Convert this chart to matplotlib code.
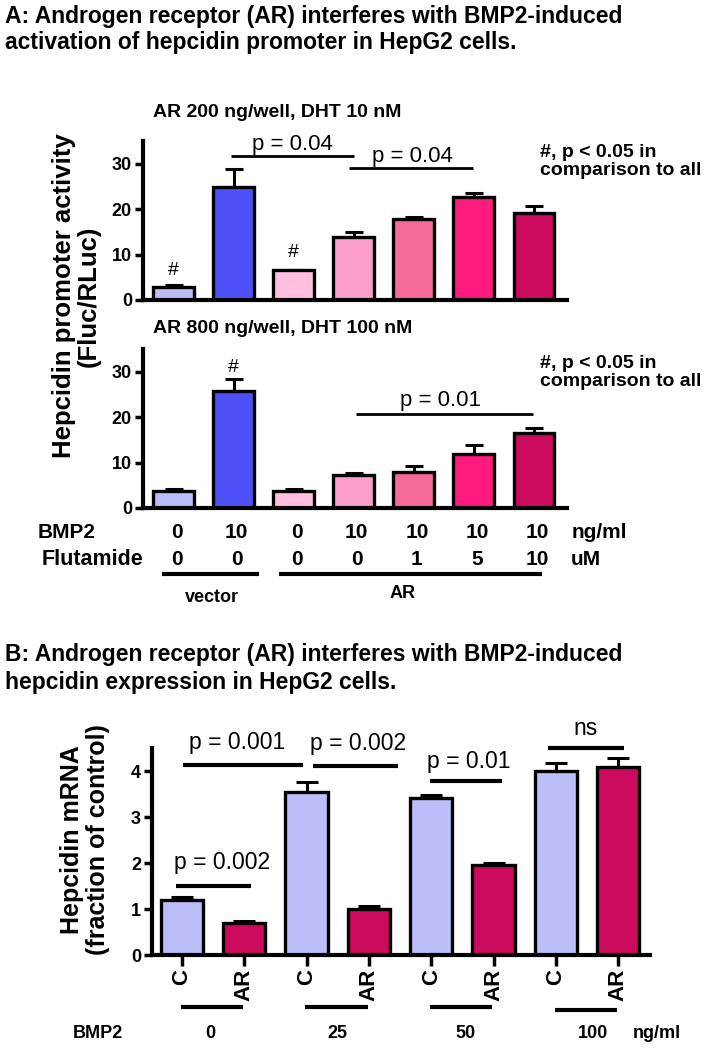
import matplotlib
matplotlib.use("Agg")
from matplotlib import pyplot as plt
import numpy as np

plt.rcParams['font.family'] = ['Liberation Sans', 'DejaVu Sans']

# ---- data, panel A (promoter activity) ----
bmp2_a = ['0', '10', '0', '10', '10', '10', '10']
flutamide = ['0', '0', '0', '0', '1', '5', '10']
colors_a = ['#bdbdfb', '#5050f8', '#ffc0df', '#f89ec8', '#f56a99', '#ff1a7e', '#cc0a5e']

ar200_mean = [2.9, 24.9, 6.5, 13.9, 17.8, 22.6, 19.1]
ar200_sem = [0.4, 4.0, 0.15, 1.0, 0.4, 0.9, 1.6]
ar800_mean = [3.7, 25.8, 3.7, 7.3, 8.0, 11.8, 16.6]
ar800_sem = [0.5, 2.7, 0.5, 0.3, 1.2, 2.1, 1.0]

# ---- data, panel B (hepcidin mRNA) ----
bmp2_b = ['0', '25', '50', '100']
ctrl_mean = [1.2, 3.55, 3.42, 4.0]
ctrl_sem = [0.06, 0.21, 0.05, 0.18]
ar_mean = [0.69, 1.0, 1.95, 4.08]
ar_sem = [0.04, 0.06, 0.05, 0.2]
col_c = '#bdbdfa'
col_ar = '#cc0a5e'

W, H = 710, 1049
fig = plt.figure(figsize=(W / 100, H / 100), dpi=100)


def px_axes(left, top, right, bottom):
    # axes placed with pixel coordinates of the reference
    return fig.add_axes([left / W, 1 - bottom / H, (right - left) / W, (bottom - top) / H])


def style(ax):
    for s in ['top', 'right']:
        ax.spines[s].set_visible(False)
    for s in ['left', 'bottom']:
        ax.spines[s].set_linewidth(3)
    ax.tick_params(axis='both', length=6, width=2.5, labelsize=13, pad=2)
    for lab in ax.get_yticklabels():
        lab.set_fontweight('bold')


def bars(ax, x, mean, sem, colors, width=0.68, cap=6.5):
    ax.errorbar(x, mean, yerr=[np.zeros(len(mean)), sem], fmt='none', ecolor='black',
                elinewidth=2.2, capsize=cap, capthick=2.2, zorder=1)
    ax.bar(x, mean, width=width, color=colors, edgecolor='black', linewidth=2.4, zorder=2)


def bracket(ax, x0, x1, y, text, tx, ty, size=16, lw=2):
    ax.plot([x0, x1], [y, y], color='black', lw=lw, clip_on=False, solid_capstyle='butt')
    ax.text(tx, ty, text, ha='center', va='center', fontsize=size, clip_on=False)


def ftext(x, y, s, **kw):
    # text at reference pixel position
    fig.text(x / W, 1 - y / H, s, **kw)


# ---- titles ----
ftext(5, 16, 'A: Androgen receptor (AR) interferes with BMP2-induced',
      fontsize=16.5, fontweight='bold', va='center')
ftext(5, 43, 'activation of hepcidin promoter in HepG2 cells.',
      fontsize=16.5, fontweight='bold', va='center')
ftext(5, 655, 'B: Androgen receptor (AR) interferes with BMP2-induced',
      fontsize=16.5, fontweight='bold', va='center')
ftext(5, 682, 'hepcidin expression in HepG2 cells.',
      fontsize=16.5, fontweight='bold', va='center')

x7 = np.arange(len(bmp2_a))

# ---- panel A, upper ----
ax1 = px_axes(143, 141, 567, 300)
bars(ax1, x7, ar200_mean, ar200_sem, colors_a)
ax1.set_ylim(0, 35)
ax1.set_xlim(-0.51, 6.55)
ax1.set_yticks([0, 10, 20, 30])
ax1.set_xticks([])
style(ax1)
ax1.text(-0.34, 41.3, 'AR 200 ng/well, DHT 10 nM', fontsize=14, fontweight='bold', va='center')
bracket(ax1, 0.96, 3.0, 31.8, 'p = 0.04', 1.98, 34.3)
bracket(ax1, 2.92, 4.99, 29.1, 'p = 0.04', 3.98, 31.6)
ax1.text(0, 6.6, '#', ha='center', va='center', fontsize=14)
ax1.text(2, 10.4, '#', ha='center', va='center', fontsize=14)
ax1.text(6.1, 30.5, '#, p < 0.05 in\ncomparison to all', fontsize=14, fontweight='bold',
         va='center', linespacing=1.1)

# ---- panel A, lower ----
ax2 = px_axes(143, 349, 567, 508)
bars(ax2, x7, ar800_mean, ar800_sem, colors_a)
ax2.set_ylim(0, 35)
ax2.set_xlim(-0.51, 6.55)
ax2.set_yticks([0, 10, 20, 30])
ax2.set_xticks([])
style(ax2)
ax2.text(-0.34, 39.5, 'AR 800 ng/well, DHT 100 nM', fontsize=14, fontweight='bold', va='center')
ax2.text(1, 30.9, '#', ha='center', va='center', fontsize=14)
bracket(ax2, 3.03, 5.99, 20.8, 'p = 0.01', 4.45, 23.7)
ax2.text(6.1, 29.8, '#, p < 0.05 in\ncomparison to all', fontsize=14, fontweight='bold',
         va='center', linespacing=1.1)

# rows of conditions below panel A
trans2 = ax2.get_xaxis_transform()
for i in x7:
    ax2.text(i + 0.05, -0.157, bmp2_a[i], transform=trans2, ha='center', va='center',
             fontsize=15, fontweight='bold')
    ax2.text(i + 0.05, -0.327, flutamide[i], transform=trans2, ha='center', va='center',
             fontsize=15, fontweight='bold')
ax2.text(-2.26, -0.157, 'BMP2', transform=trans2, va='center', fontsize=15, fontweight='bold')
ax2.text(-2.19, -0.327, 'Flutamide', transform=trans2, va='center', fontsize=15.5,
         fontweight='bold')
ax2.text(6.62, -0.157, 'ng/ml', transform=trans2, va='center', fontsize=15, fontweight='bold')
ax2.text(6.62, -0.327, 'uM', transform=trans2, va='center', fontsize=15, fontweight='bold')
ax2.plot([-0.19, 1.42], [-0.415, -0.415], transform=trans2, color='black', lw=3,
         clip_on=False, solid_capstyle='butt')
ax2.plot([1.76, 6.13], [-0.415, -0.415], transform=trans2, color='black', lw=3,
         clip_on=False, solid_capstyle='butt')
ax2.text(0.64, -0.56, 'vector', transform=trans2, ha='center', va='center',
         fontsize=13, fontweight='bold')
ax2.text(3.82, -0.535, 'AR', transform=trans2, ha='center', va='center',
         fontsize=13, fontweight='bold')

ftext(76, 296, 'Hepcidin promoter activity\n(Fluc/RLuc)', rotation=90,
      ha='center', va='center', fontsize=18.5, fontweight='bold', multialignment='center',
      linespacing=1.05)

# ---- panel B ----
axb = px_axes(152, 748, 650, 955)
xb = np.arange(len(bmp2_b)) * 2
bars(axb, xb, ctrl_mean, ctrl_sem, col_c, cap=8)
bars(axb, xb + 1, ar_mean, ar_sem, col_ar, cap=8)
axb.set_ylim(0, 4.5)
axb.set_xlim(-0.48, 7.51)
axb.set_yticks([0, 1, 2, 3, 4])
xt = np.sort(np.concatenate([xb, xb + 1]))
axb.set_xticks(xt)
axb.set_xticklabels(['C', 'AR'] * 4, rotation=90, fontweight='bold')
style(axb)
axb.tick_params(axis='x', labelsize=16, length=8)

bracket(axb, -0.09, 1.11, 1.51, 'p = 0.002', 0.64, 2.01, size=16.5, lw=3)
bracket(axb, 0.01, 1.94, 4.13, 'p = 0.001', 0.89, 4.62, size=16.5, lw=3)
bracket(axb, 2.11, 3.46, 4.11, 'p = 0.002', 2.82, 4.6, size=16.5, lw=3)
bracket(axb, 3.98, 5.13, 3.78, 'p = 0.01', 4.6, 4.2, size=16.5, lw=3)
bracket(axb, 5.87, 7.09, 4.49, 'ns', 6.47, 4.93, size=16.5, lw=3)

transb = axb.get_xaxis_transform()
for g, lab in enumerate(bmp2_b):
    y_line = -0.251 if g < 3 else -0.266
    axb.plot([2 * g - 0.02, 2 * g + 0.98], [y_line, y_line], transform=transb,
             color='black', lw=3, clip_on=False, solid_capstyle='butt')
    axb.text(2 * g + 0.45 + 0.05 * g, -0.378, lab, transform=transb, ha='center',
             va='center', fontsize=13, fontweight='bold')
axb.text(-1.75, -0.378, 'BMP2', transform=transb, va='center', fontsize=13, fontweight='bold')
axb.text(7.23, -0.378, 'ng/ml', transform=transb, va='center', fontsize=13, fontweight='bold')

ftext(85, 840, 'Hepcidin mRNA\n(fraction of control)', rotation=90,
      ha='center', va='center', fontsize=18, fontweight='bold', multialignment='center',
      linespacing=1.1)

fig.savefig('out.png', dpi=100, facecolor='white')
